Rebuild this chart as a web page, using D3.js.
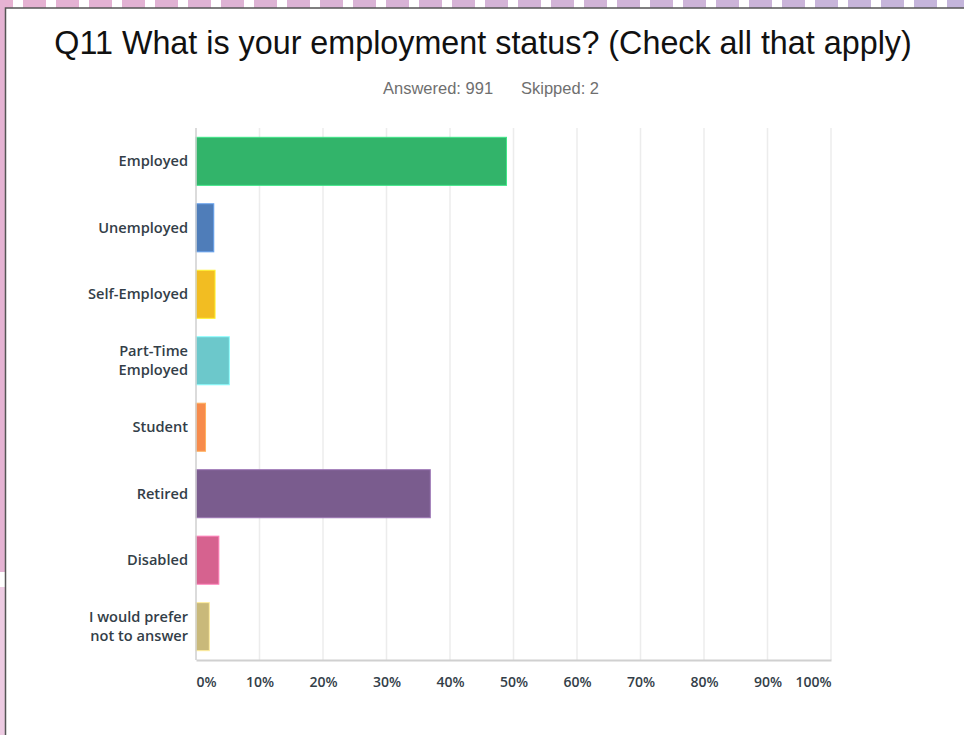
<!DOCTYPE html>
<html>
<head>
<meta charset="utf-8">
<script src="https://cdn.jsdelivr.net/npm/d3@7"></script>
<style>
  html, body { margin: 0; padding: 0; background: #ffffff; }
  svg { display: block; }
</style>
</head>
<body>
<svg id="chart" width="964" height="735"></svg>
<script>
// ---- data ----
const categories = [
  "Employed",
  "Unemployed",
  "Self-Employed",
  "Part-Time\nEmployed",
  "Student",
  "Retired",
  "Disabled",
  "I would prefer\nnot to answer"
];
const values = [48.9, 2.8, 3.0, 5.25, 1.5, 36.9, 3.6, 2.1];
const colors = ["#32b46a", "#4f7db9", "#f2bd22", "#6cc8cb", "#f78b4b", "#7a5c8e", "#d6628f", "#c9b97a"];
const tickValues = [0, 10, 20, 30, 40, 50, 60, 70, 80, 90, 100];
const title = "Q11 What is your employment status? (Check all that apply)";
const answeredText = "Answered: 991";
const skippedText = "Skipped: 2";

// ---- layout ----
const W = 964, H = 735;
const svg = d3.select("#chart");

// decorative page background (frame around the panel)
const deco = svg.append("g");
deco.append("rect").attr("x", 0).attr("y", 0).attr("width", W).attr("height", H).attr("fill", "#ffffff");
const dashColor = d3.scaleLinear().domain([0, W]).range(["#e6b2d2", "#c3b5db"]);
const dashes = d3.range(-10, W, 33);
deco.selectAll("rect.dash").data(dashes).enter().append("rect")
  .attr("class", "dash")
  .attr("x", d => d).attr("y", 0).attr("width", 23).attr("height", 8)
  .attr("fill", d => dashColor(d));
deco.append("rect").attr("x", 0).attr("y", 0).attr("width", 5).attr("height", 572).attr("fill", "#e5b3d3");
deco.append("rect").attr("x", 0).attr("y", 587).attr("width", 5).attr("height", 148).attr("fill", "#edcbe2");
// panel
deco.append("rect").attr("x", 5.5).attr("y", 8).attr("width", W).attr("height", H)
  .attr("fill", "#ffffff").attr("stroke", "#555555").attr("stroke-width", 1.5);

// title & subtitle
svg.append("text")
  .attr("x", 483).attr("y", 54)
  .attr("text-anchor", "middle")
  .attr("font-family", "'Liberation Sans', Arial, Helvetica, sans-serif")
  .attr("font-size", 32.3)
  .attr("fill", "#111111")
  .text(title);
svg.append("text")
  .attr("x", 383).attr("y", 94)
  .attr("font-family", "'Liberation Sans', Arial, Helvetica, sans-serif")
  .attr("font-size", 16.5)
  .attr("fill", "#6f6f6f")
  .text(answeredText);
svg.append("text")
  .attr("x", 521).attr("y", 94)
  .attr("font-family", "'Liberation Sans', Arial, Helvetica, sans-serif")
  .attr("font-size", 16.5)
  .attr("fill", "#6f6f6f")
  .text(skippedText);

// scales
const x0 = 196, x1 = 831, yTop = 128, yBot = 660;
const x = d3.scaleLinear().domain([0, 100]).range([x0, x1]);
const y = d3.scaleBand().domain(categories).range([yTop, yBot]).paddingInner(0.277).paddingOuter(0.14);

// gridlines
svg.append("g").selectAll("line").data(tickValues.filter(d => d > 0)).enter().append("line")
  .attr("x1", d => x(d)).attr("x2", d => x(d))
  .attr("y1", yTop).attr("y2", yBot)
  .attr("stroke", "#ececec").attr("stroke-width", 1.5);

// bars
svg.append("g").selectAll("rect").data(categories).enter().append("rect")
  .attr("x", x(0))
  .attr("y", d => y(d))
  .attr("width", (d, i) => x(values[i]) - x(0))
  .attr("height", y.bandwidth())
  .attr("fill", (d, i) => colors[i])
  .attr("stroke", (d, i) => d3.color(colors[i]).brighter(0.7))
  .attr("stroke-width", 1);

// left axis line
svg.append("line")
  .attr("x1", x0).attr("x2", x0).attr("y1", yTop).attr("y2", yBot)
  .attr("stroke", "#cfcfcf").attr("stroke-width", 1.5);

// y axis (labels drawn per line so wrapped labels stay separate)
const yAxis = d3.axisLeft(y).tickSize(0).tickPadding(8);
const gy = svg.append("g").attr("transform", `translate(${x0},0)`).call(yAxis);
gy.select(".domain").remove();
gy.selectAll(".tick").each(function(d) {
  const tick = d3.select(this);
  tick.select("text").remove();
  const lines = d.split("\n");
  const lh = 19;
  const start = -(lines.length - 1) * lh / 2;
  lines.forEach((ln, i) => {
    tick.append("text")
      .attr("x", -8)
      .attr("y", start + i * lh)
      .attr("dy", "0.34em")
      .attr("text-anchor", "end")
      .attr("font-family", "'Open Sans', 'Noto Sans', sans-serif")
      .attr("font-weight", 600)
      .attr("font-size", 14.6)
      .attr("fill", "#333e48")
      .text(ln);
  });
});

// x axis
const xAxis = d3.axisBottom(x).tickValues(tickValues).tickFormat(d => d + "%").tickSize(0).tickSizeOuter(0).tickPadding(17);
const gx = svg.append("g").attr("transform", `translate(0,${yBot})`).call(xAxis);
gx.select(".domain").attr("stroke", "#d0d0d0").attr("stroke-width", 2);
gx.selectAll(".tick text")
  .attr("font-family", "'Open Sans', 'Noto Sans', sans-serif")
  .attr("font-weight", 600)
  .attr("font-size", 14)
  .attr("fill", "#333e48")
  .attr("text-anchor", d => d === 0 ? "start" : (d === 100 ? "end" : "middle"));
</script>
</body>
</html>
